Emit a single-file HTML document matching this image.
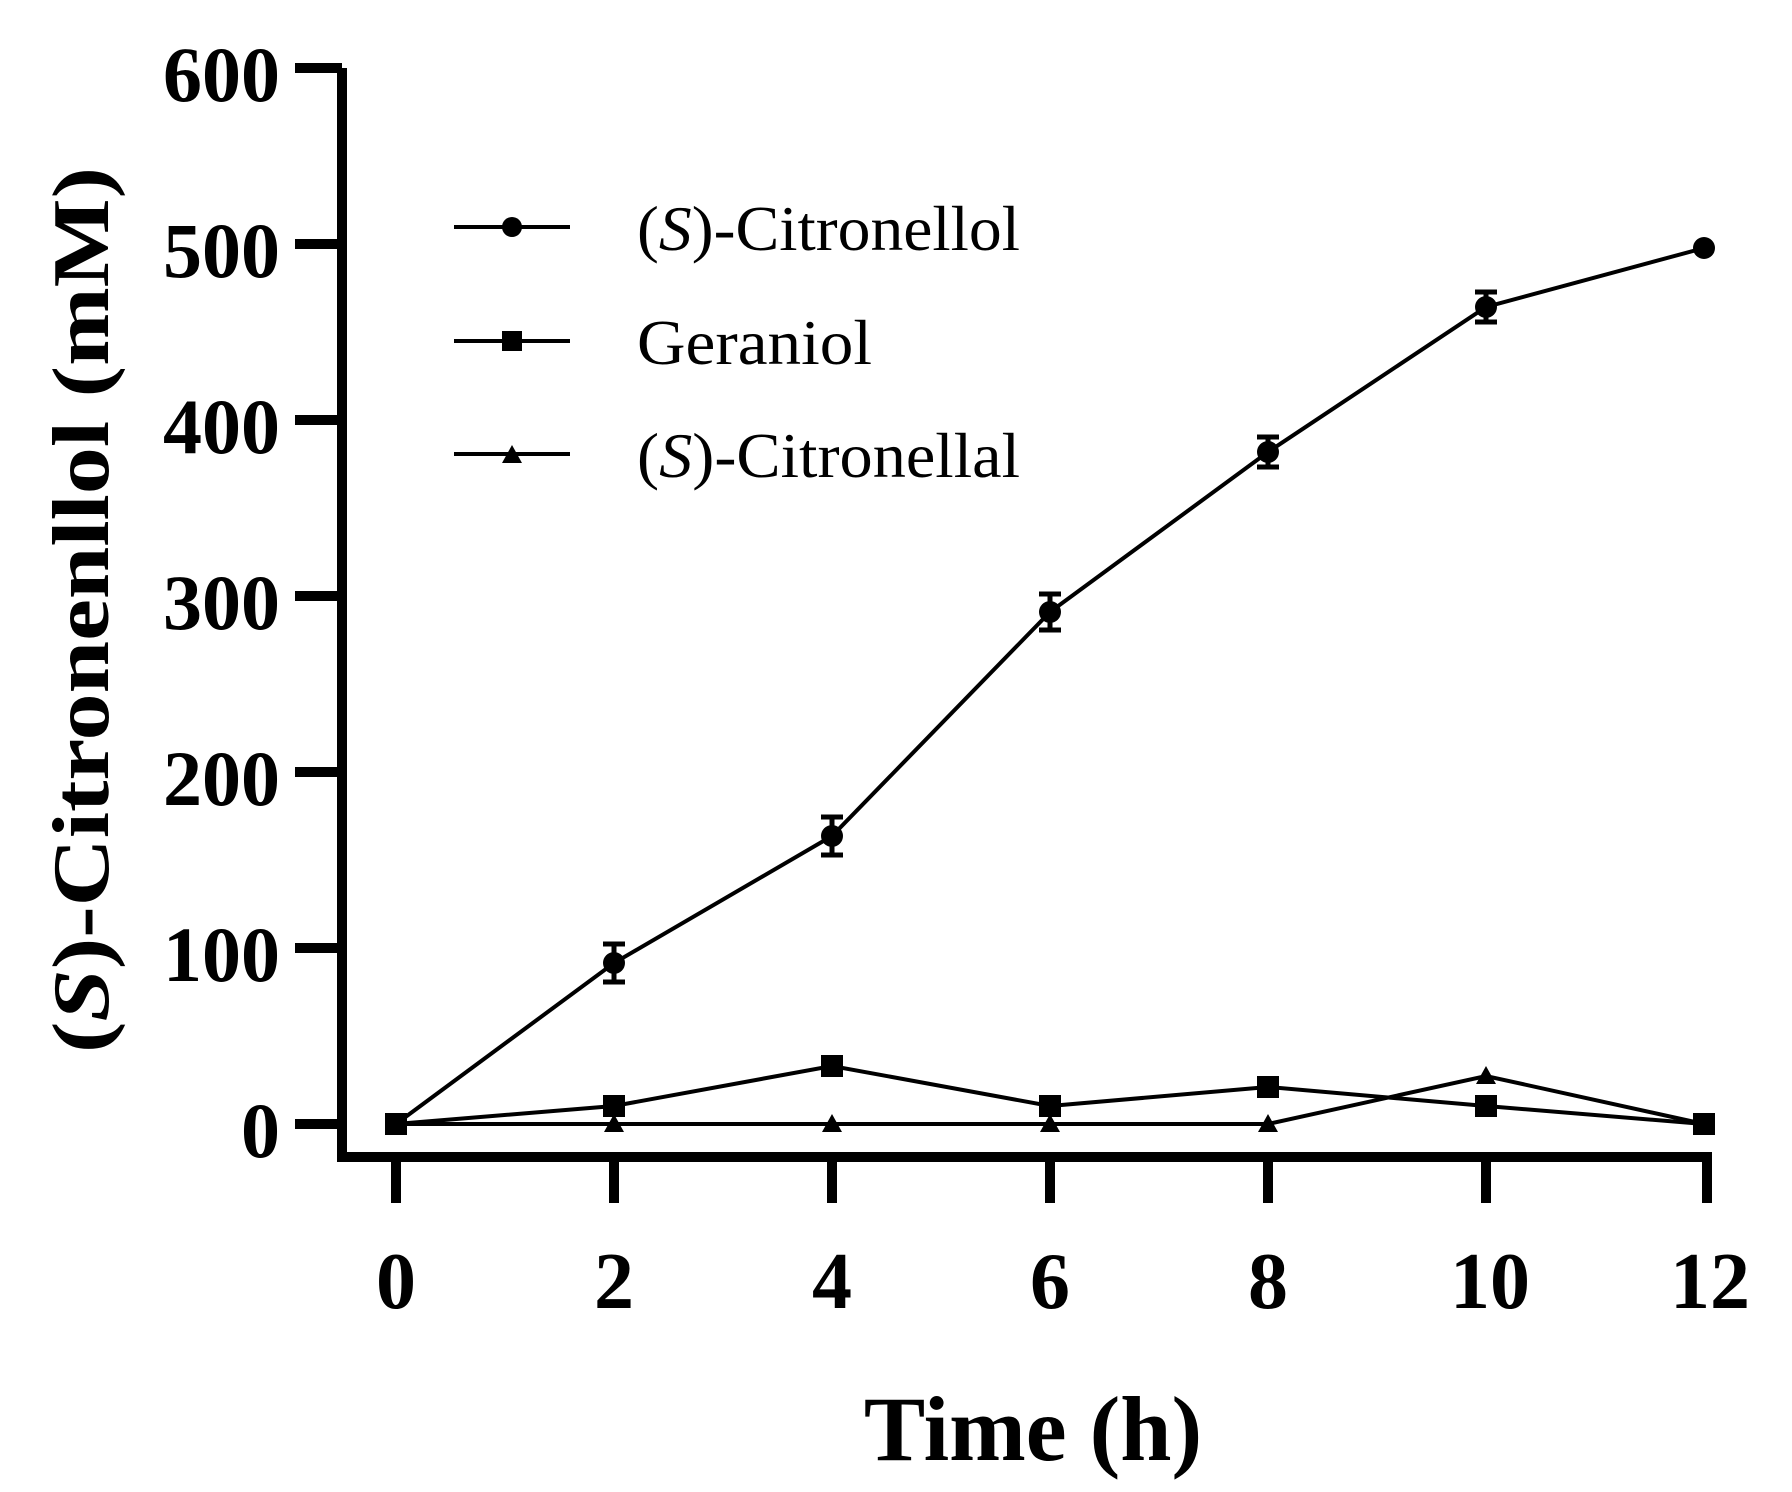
<!DOCTYPE html>
<html><head><meta charset="utf-8"><style>html,body{margin:0;padding:0;background:#fff}svg{display:block}</style></head>
<body>
<svg width="1792" height="1492" viewBox="0 0 1792 1492" xmlns="http://www.w3.org/2000/svg" font-family="Liberation Serif, serif">
<rect width="1792" height="1492" fill="#fff"/>
<g stroke="#000" stroke-width="10" fill="none">
<polyline points="342,68 342,1157 1707,1157 1707,1203" stroke-linejoin="miter"/>
<line x1="295" y1="68" x2="342" y2="68"/>
<line x1="295" y1="244" x2="342" y2="244"/>
<line x1="295" y1="420" x2="342" y2="420"/>
<line x1="295" y1="596" x2="342" y2="596"/>
<line x1="295" y1="772" x2="342" y2="772"/>
<line x1="295" y1="948" x2="342" y2="948"/>
<line x1="295" y1="1124" x2="342" y2="1124"/>
<line x1="396" y1="1157" x2="396" y2="1203"/>
<line x1="614" y1="1157" x2="614" y2="1203"/>
<line x1="832" y1="1157" x2="832" y2="1203"/>
<line x1="1050" y1="1157" x2="1050" y2="1203"/>
<line x1="1268" y1="1157" x2="1268" y2="1203"/>
<line x1="1486" y1="1157" x2="1486" y2="1203"/>
</g>
<g font-size="78" font-weight="bold" text-anchor="end">
<text x="280" y="101">600</text><text x="280" y="277">500</text><text x="280" y="453">400</text>
<text x="280" y="629">300</text><text x="280" y="805">200</text><text x="280" y="981">100</text><text x="280" y="1157">0</text>
</g>
<g font-size="80" font-weight="bold" text-anchor="middle">
<text x="396" y="1308">0</text><text x="614" y="1308">2</text><text x="832" y="1308">4</text>
<text x="1050" y="1308">6</text><text x="1268" y="1308">8</text><text x="1490" y="1308">10</text><text x="1710" y="1308">12</text>
</g>
<text x="1033" y="1460" font-size="92" font-weight="bold" text-anchor="middle">Time (h)</text>
<text transform="translate(108,610) rotate(-90)" font-size="80" font-weight="bold" text-anchor="middle" textLength="886" lengthAdjust="spacingAndGlyphs">(<tspan font-style="italic">S</tspan>)-Citronenllol (mM)</text>
<g stroke="#000" stroke-width="4" fill="none">
<polyline points="396,1124 614,963 832,836 1050,612 1268,452 1486,307 1704,248"/>
<polyline points="396,1124 614,1106 832,1066 1050,1106 1268,1087 1486,1106 1704,1124"/>
<polyline points="396,1124 614,1124 832,1124 1050,1124 1268,1124 1486,1076 1704,1124"/>
<line x1="454" y1="227" x2="570" y2="227"/>
<line x1="454" y1="341" x2="570" y2="341"/>
<line x1="454" y1="454" x2="570" y2="454"/>
</g>
<g stroke="#000" stroke-width="5">
<path d="M614 944V982M603 944H625M603 982H625"/>
<path d="M832 817V855M821 817H843M821 855H843"/>
<path d="M1050 594V630M1039 594H1061M1039 630H1061"/>
<path d="M1268 437V467M1257 437H1279M1257 467H1279"/>
<path d="M1486 292V322M1475 292H1497M1475 322H1497"/>
</g>
<g fill="#000">
<circle cx="614" cy="963" r="11"/><circle cx="832" cy="836" r="11"/><circle cx="1050" cy="612" r="11"/>
<circle cx="1268" cy="452" r="11"/><circle cx="1486" cy="307" r="11"/><circle cx="1704" cy="248" r="11"/>
<rect x="385" y="1113" width="22" height="22"/><rect x="603" y="1095" width="22" height="22"/><rect x="821" y="1055" width="22" height="22"/>
<rect x="1039" y="1095" width="22" height="22"/><rect x="1257" y="1076" width="22" height="22"/><rect x="1475" y="1095" width="22" height="22"/><rect x="1693" y="1113" width="22" height="22"/>
<path d="M614 1114l10 18h-20z M832 1114l10 18h-20z M1050 1114l10 18h-20z M1268 1114l10 18h-20z M1486 1066l10 18h-20z"/>
<circle cx="512" cy="227" r="10"/>
<rect x="502" y="331" width="20" height="20"/>
<path d="M512 445l10 18h-20z"/>
</g>
<g font-size="64">
<text x="637" y="250" textLength="383" lengthAdjust="spacingAndGlyphs">(<tspan font-style="italic">S</tspan>)-Citronellol</text>
<text x="637" y="364" textLength="235" lengthAdjust="spacingAndGlyphs">Geraniol</text>
<text x="637" y="477" textLength="383" lengthAdjust="spacingAndGlyphs">(<tspan font-style="italic">S</tspan>)-Citronellal</text>
</g>
</svg>
</body></html>
